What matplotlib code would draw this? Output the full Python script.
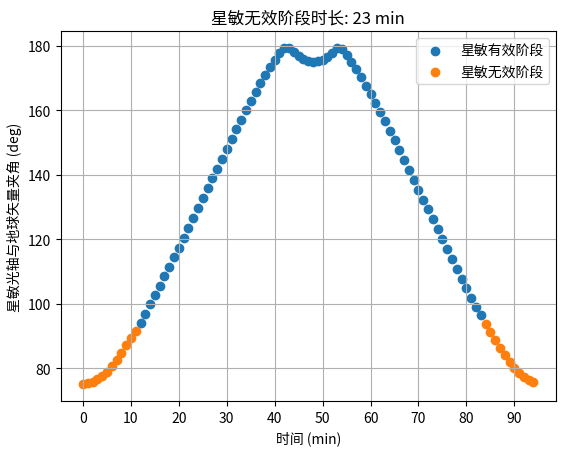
import numpy as np
import matplotlib.pyplot as plt

plt.rcParams['font.family'] = ['Noto Sans CJK SC', 'DejaVu Sans']
plt.rcParams['axes.unicode_minus'] = False

# 时间 (min)
t = np.arange(95)
# 星敏光轴与地球矢量夹角 (deg)
angle = [75.0, 75.3, 75.8, 76.5, 77.4, 78.9, 80.7, 82.6, 84.8, 87.0,
         89.2, 91.4, 94.1, 96.9, 99.8, 102.6, 105.5, 108.4, 111.3, 114.3,
         117.3, 120.3, 123.4, 126.5, 129.6, 132.6, 135.7, 138.8, 141.8, 144.9,
         148.0, 151.0, 154.0, 157.0, 160.0, 162.9, 165.7, 168.4, 171.0, 173.4,
         175.6, 177.6, 179.3, 179.1, 177.9, 176.7, 175.8, 175.2, 174.9, 175.1,
         175.6, 176.5, 177.8, 179.3, 179.0, 177.2, 175.0, 172.6, 170.1, 167.5,
         164.9, 162.2, 159.4, 156.5, 153.6, 150.6, 147.6, 144.5, 141.4, 138.3,
         135.2, 132.2, 129.2, 126.1, 123.0, 119.9, 116.8, 113.7, 110.7, 107.7,
         104.7, 101.8, 99.0, 96.3, 93.6, 91.1, 88.6, 86.2, 83.9, 81.8,
         80.0, 78.4, 77.1, 76.2, 75.6]
angle = np.array(angle)

# 有效阶段: 第12到83分钟
valid = (t >= 12) & (t <= 83)
invalid_len = int((~valid).sum())

fig = plt.figure(figsize=(5.65, 4.52), dpi=100)
ax = fig.add_axes([60.5 / 565, 50 / 452, 495.5 / 565, 370 / 452])

ax.scatter(t[valid], angle[valid], color='#1f77b4', label='星敏有效阶段')
ax.scatter(t[~valid], angle[~valid], color='#ff7f0e', label='星敏无效阶段')

ax.set_xticks(np.arange(0, 91, 10))
ax.set_xlabel('时间 (min)')
ax.set_ylabel('星敏光轴与地球矢量夹角 (deg)')
ax.set_title(f'星敏无效阶段时长: {invalid_len} min')
ax.grid(True)
ax.legend(loc='upper right')

fig.savefig('out.png', dpi=100)
